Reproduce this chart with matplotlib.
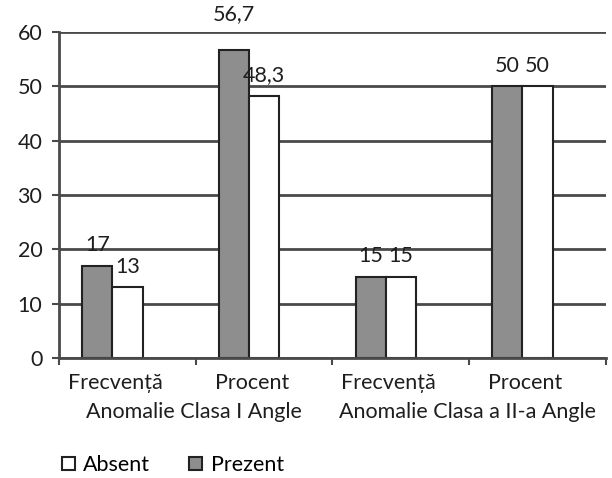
import numpy as np
import matplotlib.pyplot as plt

plt.rcParams['font.family'] = ['Lato', 'DejaVu Sans']

# values per group: frequency and percent for Class I and Class II anomalies
categories = ['Frecvență', 'Procent', 'Frecvență', 'Procent']
groups = ['Anomalie Clasa I Angle', 'Anomalie Clasa a II-a Angle']
prezent = [17, 56.7, 15, 50]
absent = [13, 48.3, 15, 50]
prezent_labels = ['17', '56,7', '15', '50']
absent_labels = ['13', '48,3', '15', '50']

fs = 15.5
txt_c = '#1e1e1e'

fig = plt.figure(figsize=(6.12, 4.78), dpi=100)
ax = fig.add_axes([0.0964, 0.251, 0.8936, 0.682])

x = np.arange(len(categories))
w = 0.222
grid_c = '#4a4a4a'

ax.set_ylim(0, 60)
ax.set_xlim(-0.5, 3.5)
ax.set_yticks(range(0, 61, 10))
ax.yaxis.grid(True, color=grid_c, linewidth=2)
ax.set_axisbelow(True)

bp = ax.bar(x - 0.22, prezent, w, color='#8e8e8e', edgecolor='#222222', linewidth=1.5,
            label='Prezent')
ba = ax.bar(x + 0.0, absent, w, color='white', edgecolor='#222222', linewidth=1.5,
            label='Absent')

for i in range(len(x)):
    off = 26 if prezent[i] > 55 else 15
    ax.annotate(prezent_labels[i], (x[i] - 0.22, prezent[i]), xytext=(0, off),
                textcoords='offset points', ha='center', va='center', fontsize=fs,
                color=txt_c)
    ax.annotate(absent_labels[i], (x[i] + 0.0, absent[i]), xytext=(0, 15),
                textcoords='offset points', ha='center', va='center', fontsize=fs,
                color=txt_c)

for s in ['top', 'right']:
    ax.spines[s].set_visible(False)
ax.spines['left'].set_color(grid_c)
ax.spines['left'].set_linewidth(2)
ax.spines['bottom'].set_color(grid_c)
ax.spines['bottom'].set_linewidth(2)

ax.tick_params(axis='y', length=5, width=1.5, color=grid_c, labelsize=fs,
               labelcolor=txt_c, pad=7)
ax.set_xticks(np.arange(-0.5, 4, 1.0))
ax.set_xticklabels([])
ax.tick_params(axis='x', length=5, width=1.5, color=grid_c)

# category and group labels below the axis
for i, c in enumerate(categories):
    ax.text(i - 0.09, -0.077, c, transform=ax.get_xaxis_transform(), ha='center',
            va='center', fontsize=fs, color=txt_c)
for j, g in enumerate(groups):
    ax.text(0.5 + 2 * j - 0.01, -0.166, g, transform=ax.get_xaxis_transform(),
            ha='center', va='center', fontsize=fs, color=txt_c)

fig.legend(handles=[ba, bp], loc='center left', bbox_to_anchor=(0.101, 0.027),
           ncol=2, frameon=False, fontsize=fs, handlelength=0.6, handleheight=0.6,
           columnspacing=1.8, handletextpad=0.4, borderpad=0, borderaxespad=0)

fig.savefig('out.png', dpi=100)
